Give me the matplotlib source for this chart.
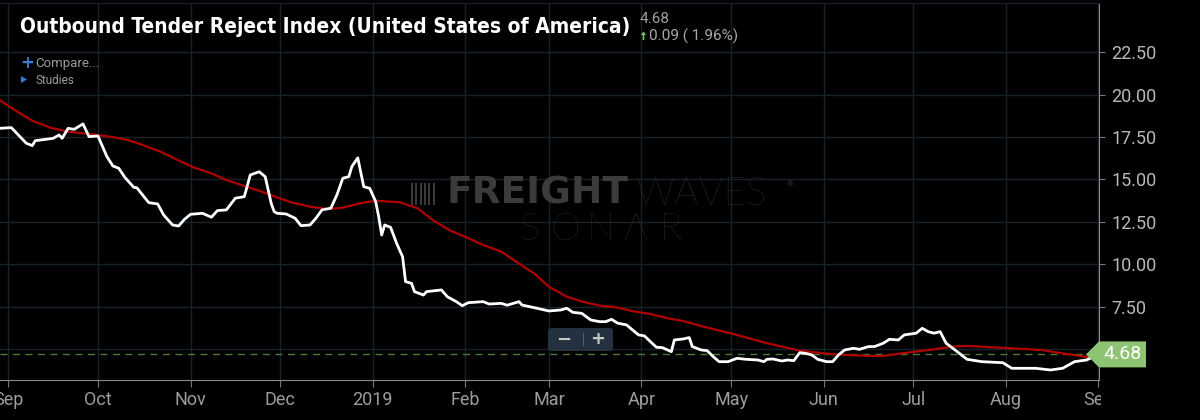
import numpy as np
import matplotlib
matplotlib.use("Agg")
import matplotlib.pyplot as plt
import matplotlib.dates as mdates
from matplotlib import transforms, font_manager
from matplotlib.patches import Polygon, FancyBboxPatch, Rectangle

# days counted from 2018-09-01
start = np.datetime64("2018-09-01")

otri_days = [-3, 1, 6, 8, 9, 15, 17, 18, 20, 22, 25, 27, 30, 33, 35, 37, 39, 42, 43, 47,
             50, 52, 55, 57, 59, 61, 65, 68, 70, 73, 76, 79, 81, 84, 86, 88, 89, 90, 93, 96,
             98, 101, 103, 105, 108, 110, 112, 114, 115, 117, 119, 121, 123, 124, 125, 126, 128, 130, 132, 133,
             135, 136, 139, 140, 145, 147, 150, 152, 154, 159, 161, 165, 167, 171, 172, 177, 181, 185, 187, 189,
             192, 195, 198, 200, 202, 204, 207, 209, 211, 213, 215, 217, 219, 222, 223, 226, 228, 229, 232, 234,
             236, 238, 241, 244, 247, 251, 253, 254, 256, 259, 261, 263, 265, 267, 269, 271, 274, 276, 278, 280,
             283, 285, 288, 290, 293, 295, 298, 300, 304, 306, 308, 310, 312, 314, 317, 321, 326, 333, 336, 344,
             349, 353, 357, 361, 363, 365]
otri_vals = [18.01, 18.05, 17.13, 16.99, 17.28, 17.42, 17.62, 17.42, 18.01, 17.95, 18.27, 17.52, 17.56, 16.34, 15.79, 15.65, 15.12, 14.53, 14.51, 13.63,
             13.55, 12.90, 12.31, 12.25, 12.65, 12.94, 13.00, 12.77, 13.16, 13.20, 13.89, 13.98, 15.26, 15.45, 15.16, 13.59, 13.10, 13.00, 12.96, 12.71,
             12.27, 12.31, 12.71, 13.20, 13.30, 14.08, 15.07, 15.16, 15.75, 16.27, 14.57, 14.47, 13.69, 12.80, 11.72, 12.31, 12.17, 11.23, 10.44, 8.97,
             8.87, 8.38, 8.18, 8.38, 8.48, 8.08, 7.79, 7.55, 7.73, 7.79, 7.65, 7.69, 7.58, 7.79, 7.59, 7.40, 7.24, 7.30, 7.40, 7.16,
             7.10, 6.71, 6.61, 6.61, 6.75, 6.52, 6.42, 6.12, 5.83, 5.77, 5.43, 5.10, 5.08, 4.84, 5.53, 5.59, 5.67, 5.14, 4.94, 4.90,
             4.55, 4.25, 4.25, 4.45, 4.39, 4.35, 4.25, 4.39, 4.41, 4.29, 4.35, 4.31, 4.78, 4.74, 4.65, 4.39, 4.25, 4.25, 4.65, 4.94,
             5.04, 4.98, 5.14, 5.14, 5.34, 5.57, 5.53, 5.83, 5.93, 6.22, 6.02, 5.93, 6.02, 5.34, 4.94, 4.39, 4.25, 4.19, 3.86, 3.86,
             3.76, 3.86, 4.25, 4.35, 4.51, 4.60]

ma_days = [-3, 3, 8, 14, 20, 27, 34, 40, 45, 51, 56, 62, 68, 73, 79, 84, 90, 95, 101, 107,
           112, 118, 123, 131, 137, 142, 148, 154, 159, 165, 170, 176, 181, 187, 193, 198, 204, 209, 215, 221,
           226, 232, 243, 254, 265, 276, 288, 293, 299, 310, 316, 321, 336, 346, 353, 362, 365]
ma_vals = [19.68, 18.99, 18.46, 18.05, 17.81, 17.68, 17.52, 17.32, 17.03, 16.63, 16.20, 15.71, 15.35, 14.96, 14.61, 14.33, 13.94, 13.63, 13.39, 13.25,
           13.33, 13.60, 13.74, 13.65, 13.30, 12.61, 11.98, 11.53, 11.13, 10.74, 10.15, 9.46, 8.67, 8.08, 7.75, 7.56, 7.44, 7.23, 7.06, 6.80,
           6.65, 6.35, 5.87, 5.34, 4.90, 4.69, 4.59, 4.59, 4.74, 4.98, 5.14, 5.18, 5.04, 4.94, 4.74, 4.51, 4.47]

last_value = 4.68
change_text = "0.09 ( 1.96%)"
title = "Outbound Tender Reject Index (United States of America)"
y_ticks = [5.0, 7.5, 10.0, 12.5, 15.0, 17.5, 20.0, 22.5]
month_ticks = ["2018-09-01", "2018-10-01", "2018-11-01", "2018-12-01", "2019-01-01", "2019-02-01",
               "2019-03-01", "2019-04-01", "2019-05-01", "2019-06-01", "2019-07-01", "2019-08-01", "2019-09-01"]
month_labels = ["Sep", "Oct", "Nov", "Dec", "2019", "Feb", "Mar", "Apr", "May", "Jun", "Jul", "Aug", "Sep"]

# pick a narrow bold face for the title if one is installed
title_kw = dict(family="Roboto", fontsize=14.5)
cond = font_manager.FontProperties(family="DejaVu Sans", stretch="condensed", weight="bold")
if "Condensed" in font_manager.findfont(cond, fallback_to_default=False):
    title_kw = dict(family="DejaVu Sans", fontstretch="condensed", fontsize=15)
names = {f.name for f in font_manager.fontManager.ttflist}
if "Liberation Sans Narrow" in names:
    title_kw = dict(family="Liberation Sans Narrow", fontsize=17.5)

plt.rcParams["font.family"] = ["Roboto", "DejaVu Sans"]

fig = plt.figure(figsize=(12, 4.2), dpi=100, facecolor="black")
ax = fig.add_axes([0, 40 / 420, 1099 / 1200, 377 / 420])
ax.set_facecolor("black")

w_dates = start + np.array(otri_days).astype("timedelta64[D]")
r_dates = start + np.array(ma_days).astype("timedelta64[D]")
ax.plot(w_dates, otri_vals, color="white", lw=2, zorder=4)
ax.plot(r_dates, ma_vals, color="#b00000", lw=1.6, zorder=3)
ax.axhline(last_value, color="#4d7a3c", lw=1, ls=(0, (5, 4)), zorder=2)

x0 = mdates.date2num(start)
ax.set_xlim(x0 - 2.8, x0 + 365.2)
ax.set_ylim(3.17, 25.4)

ax.set_xticks([mdates.date2num(np.datetime64(d)) for d in month_ticks])
ax.set_xticklabels(month_labels)
ax.yaxis.tick_right()
ax.set_yticks(y_ticks)
ax.set_yticklabels(["%.2f" % v for v in y_ticks])
ax.grid(color="#18222c", lw=1, zorder=0)
ax.tick_params(axis="x", colors="#7a7a7a", labelcolor="#9c9c9c", labelsize=13, length=5, pad=3)
ax.tick_params(axis="y", colors="#7a7a7a", labelcolor="#b8b8b8", labelsize=13, length=4, pad=5)
ax.spines["left"].set_visible(False)
ax.spines["top"].set_color("#18222c")
ax.spines["right"].set_color("#8a8a8a")
ax.spines["bottom"].set_color("#8a8a8a")

# clip the last "Sep" like the reference
ident = transforms.IdentityTransform()
clip = transforms.TransformedBbox(transforms.Bbox([[0, 0], [1101, 420]]), ident)
last_tick = ax.xaxis.get_major_ticks()[-1]
last_tick.label1.set_clip_box(clip)
last_tick.label1.set_clip_on(True)

# watermark
fig.text(446 / 1200, 1 - 194 / 420, "FREIGHT", color="#3b3b3b", fontsize=27,
         fontweight="heavy", ha="left", va="center", family="DejaVu Sans")
fig.text(636 / 1200, 1 - 194 / 420, "WAVES", color="#353535", fontsize=28,
         fontweight="light", ha="left", va="center", family=["Lato", "DejaVu Sans"])
fig.text(790 / 1200, 1 - 184 / 420, "®", color="#353535", fontsize=6, ha="center", va="center")
for i, ch in enumerate("SONΛR"):
    fig.text((530 + 35.2 * i) / 1200, 1 - 230 / 420, ch, color="#303030", fontsize=27,
             fontweight="light", ha="center", va="center", family=["Lato", "DejaVu Sans"])
for i in range(6):
    fig.add_artist(Rectangle((411 + 4.3 * i, 420 - 205), 2, 22, transform=ident,
                             facecolor="#3a3a3a", edgecolor="none"))

# title block
fig.text(20 / 1200, 1 - 33 / 420, title, color="white", fontweight="bold", **title_kw)
fig.text(640 / 1200, 1 - 23 / 420, "%.2f" % last_value, color="#a0a0a0", fontsize=11)
fig.add_artist(Polygon([(641, 420 - 35), (643.5, 420 - 31.5), (646, 420 - 35), (644.3, 420 - 35),
                        (644.3, 420 - 40), (642.7, 420 - 40), (642.7, 420 - 35)],
                       closed=True, transform=ident, facecolor="#7cc36a", edgecolor="none"))
fig.text(649 / 1200, 1 - 41 / 420, change_text, color="#a8a8a8", fontsize=11)
fig.text(20 / 1200, 1 - 68 / 420, "+", color="#3a7bd5", fontsize=12, fontweight="bold",
         family="DejaVu Sans")
fig.text(35 / 1200, 1 - 67 / 420, "Compare...", color="#9a9a9a", fontsize=9.5)
fig.add_artist(Polygon([(21, 420 - 76), (27, 420 - 79.5), (21, 420 - 83)], closed=True,
                       transform=ident, facecolor="#3a7bd5", edgecolor="none"))
fig.text(35 / 1200, 1 - 84 / 420, "Studies", color="#9a9a9a", fontsize=8.5)

# zoom buttons
fig.add_artist(FancyBboxPatch((548, 420 - 351), 65, 23, boxstyle="round,pad=0,rounding_size=3",
                              transform=ident, facecolor="#243140", edgecolor="none", zorder=5))
fig.add_artist(Rectangle((583, 420 - 346), 1, 13, transform=ident, facecolor="#55606b",
                         edgecolor="none", zorder=6))
fig.text(564 / 1200, 1 - 339.5 / 420, "−", color="#c8c8c8", fontsize=13, fontweight="bold",
         ha="center", va="center", family="DejaVu Sans", zorder=7)
fig.text(598 / 1200, 1 - 339.5 / 420, "+", color="#c8c8c8", fontsize=13, fontweight="bold",
         ha="center", va="center", family="DejaVu Sans", zorder=7)

# last value tag
yp = ax.transData.transform((0, last_value))[1]
tag = Polygon([(1086, yp), (1099, yp + 13), (1146, yp + 13), (1146, yp - 13), (1099, yp - 13)],
              closed=True, transform=ident, facecolor="#8cc474", edgecolor="none", zorder=10)
fig.add_artist(tag)
fig.text(1123 / 1200, yp / 420, "%.2f" % last_value, color="white", fontsize=14,
         ha="center", va="center", zorder=11)

fig.savefig("out.png", dpi=100, facecolor="black")
